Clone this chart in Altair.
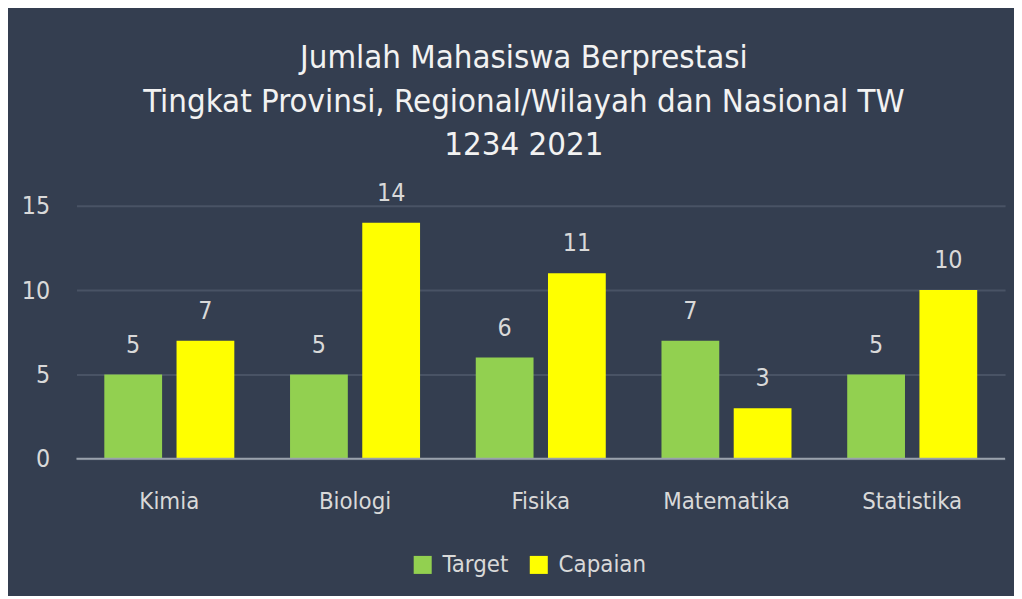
import altair as alt
import pandas as pd

categories = ["Kimia", "Biologi", "Fisika", "Matematika", "Statistika"]
series = ["Target", "Capaian"]
target = [5, 5, 6, 7, 5]
capaian = [7, 14, 11, 3, 10]
colors = ["#92D050", "#FFFF00"]
title_lines = ["Jumlah Mahasiswa Berprestasi",
               "Tingkat Provinsi, Regional/Wilayah dan Nasional TW",
               "1234 2021"]

rows = []
for c, t, p in zip(categories, target, capaian):
    rows.append({"Kategori": c, "Seri": "Target", "Nilai": t})
    rows.append({"Kategori": c, "Seri": "Capaian", "Nilai": p})
df = pd.DataFrame(rows)

FONT = "Liberation Sans Narrow, DejaVu Sans Condensed, Roboto, sans-serif"
TXT = "#D9D9D9"
BG = "#343E50"

x = alt.X("Kategori:N", sort=categories,
          scale=alt.Scale(paddingInner=0.3, paddingOuter=0.15),
          axis=alt.Axis(title=None, labelAngle=0, labelFont=FONT, labelFontSize=24,
                        labelColor=TXT, ticks=False, domain=False, labelPadding=31))
xo = alt.XOffset("Seri:N", sort=series, scale=alt.Scale(paddingInner=0.2))
y = alt.Y("Nilai:Q", scale=alt.Scale(domain=[0, 15]),
          axis=alt.Axis(title=None, values=[0, 5, 10, 15], labelFont=FONT, labelFontSize=25,
                        labelColor=TXT, ticks=False, domain=False, labelPadding=27,
                        gridColor="#495365", gridWidth=2))
color = alt.Color("Seri:N", sort=series,
                  scale=alt.Scale(domain=series, range=colors),
                  legend=alt.Legend(title=None, orient="none", legendX=337, legendY=350,
                                    direction="horizontal", symbolType="square",
                                    symbolSize=330, symbolStrokeWidth=0, symbolOpacity=1,
                                    labelFont=FONT, labelFontSize=24, labelColor=TXT,
                                    columnPadding=18, labelOffset=8))

base = alt.Chart(df).encode(x=x, xOffset=xo, y=y)
bars = base.mark_bar().encode(color=color)
labels = base.mark_text(dy=-22, baseline="alphabetic", font=FONT, fontSize=25,
                        color=TXT).encode(text="Nilai:Q")
zero = alt.Chart(pd.DataFrame({"v": [0]})).mark_rule(color="#9AA2AD", strokeWidth=2).encode(
    y=alt.Y("v:Q", scale=alt.Scale(domain=[0, 15])))

chart = alt.layer(bars, zero, labels).properties(
    width=936, height=255,
    background=BG,
    padding={"left": 69, "top": 197, "right": 9, "bottom": 136},
    autosize=alt.AutoSizeParams(type="none"),
    title=alt.TitleParams(title_lines, font=FONT, fontSize=33, fontWeight="normal",
                          color="#F2F2F2", lineHeight=44, anchor="middle", dx=-17,
                          offset=19),
).configure_view(stroke=None)

chart.save("out.html", embed_options={"renderer": "svg", "actions": False})
